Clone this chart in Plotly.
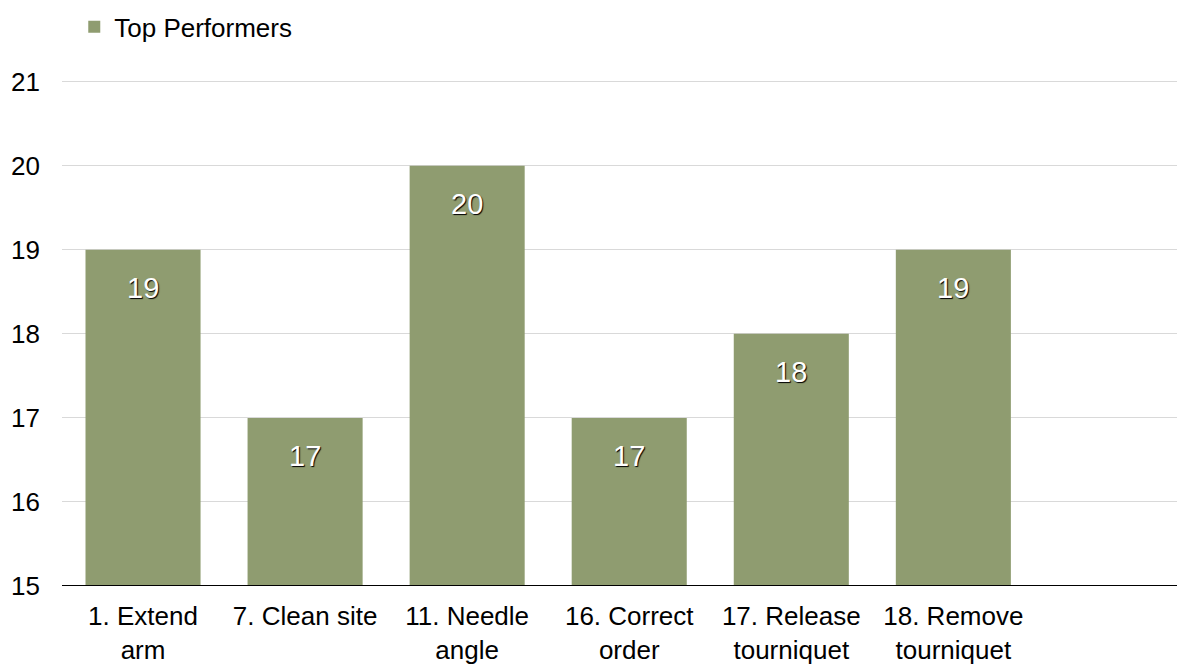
import plotly.graph_objects as go

categories = ["1. Extend<br>arm", "7. Clean site", "11. Needle<br>angle",
              "16. Correct<br>order", "17. Release<br>tourniquet", "18. Remove<br>tourniquet"]
values = [19, 17, 20, 17, 18, 19]
series_name = "Top Performers"
y_ticks = [15, 16, 17, 18, 19, 20, 21]

bar_color = "#8f9c70"
font_family = "Liberation Sans, Arial, Helvetica, sans-serif"

fig = go.Figure()
fig.add_trace(go.Bar(
    x=categories, y=values, name=series_name,
    marker=dict(color=bar_color, line=dict(width=0)),
    width=0.71,
    showlegend=True,
))

for c, v in zip(categories, values):
    fig.add_annotation(
        x=c, y=v, text=str(v), showarrow=False, yshift=-38,
        xanchor="center", yanchor="middle",
        font=dict(family=font_family, size=29, color="white",
                  shadow="1px 1px 1px black"),
    )

fig.update_layout(
    width=1193, height=664,
    margin=dict(l=62, r=16, t=80, b=78),
    paper_bgcolor="white", plot_bgcolor="white",
    font=dict(family=font_family, size=26, color="black"),
    bargap=0.29,
    showlegend=True,
    legend=dict(orientation="h", x=0.011, xanchor="left", y=0.995, yanchor="top",
                yref="container", font=dict(size=26), itemwidth=30,
                bgcolor="rgba(0,0,0,0)"),
    xaxis=dict(
        type="category", range=[-0.5, 6.38], automargin=False,
        showgrid=False, showline=False, ticks="", zeroline=False,
        tickfont=dict(size=26), ticklabelstandoff=12,
    ),
    yaxis=dict(
        range=[15, 21.02], tickvals=y_ticks, showgrid=True, gridcolor="#d9d9d9",
        gridwidth=1, zeroline=False, showline=False, ticks="", automargin=False,
        ticklabelstandoff=21, tickfont=dict(size=26),
    ),
)

fig.add_shape(type="line", xref="paper", yref="y", x0=0, x1=1, y0=15, y1=15,
              line=dict(color="black", width=2))

fig.write_html("out.html")
